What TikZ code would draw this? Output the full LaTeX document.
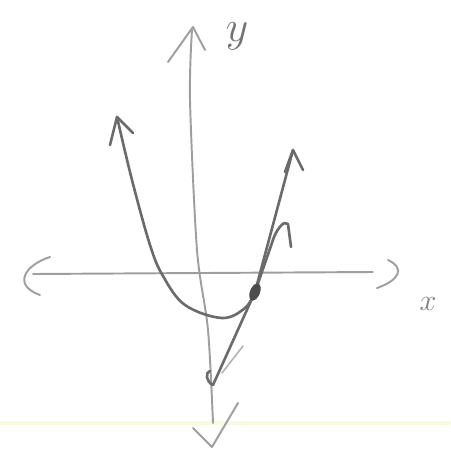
\documentclass[tikz,border=0pt]{standalone}
\begin{document}
\begin{tikzpicture}[x=0.02cm,y=-0.02cm,line cap=round,line join=round,
  axis/.style={draw=black!38,line width=1.1pt},
  pen/.style={draw=black!58,line width=1.5pt},
  faint/.style={draw=black!30,line width=0.9pt}]
\useasboundingbox (0,0) rectangle (450,453);
% scan artifact band
\draw[draw={rgb,255:red,250;green,250;blue,225},line width=2pt] (0,423) -- (450,423);
% y axis
\draw[axis] plot[smooth] coordinates {(192,30) (190,100) (197,250) (208,330) (213,423)};
\draw[axis] (168,62) -- (193,27) -- (205,50);
\draw[axis] (193,428) -- (212,447) -- (238,403);
\node (ylab) at (237,36) {\fontsize{36}{38}\selectfont\color{black!55}$y$};
% x axis
\draw[axis] (33,274) -- (373,272);
\draw[axis] (50,257) .. controls (25,265) and (12,285) .. (40,295);
\draw[axis] (388,260) .. controls (405,268) and (400,280) .. (377,288);
\node (xlab) at (428,304) {\fontsize{18}{20}\selectfont\color{black!50}$x$};
% parabola
\draw[pen] plot[smooth,tension=0.6] coordinates {(117,117) (132,180) (150,245) (163,276) (185,305) (222,318) (245,308) (255,292)};
\draw[pen] (110,145) -- (117,117) -- (133,133);
% right arm / tangent line
\draw[pen] (255,292) -- (293,150);
\draw[pen] (285,172) -- (293,150) -- (303,170);
\draw[pen] (255,292) -- (274,237) .. controls (278,228) and (284,220) .. (288,224) -- (291,247);
\draw[pen] (255,292) -- (213,385);
\draw[pen] (213,385) .. controls (206,382) and (205,372) .. (210,371);
\draw[faint] (222,373) -- (243,346);
% point
\fill[black!70,rotate around={-22:(255,292)}] (255,292) ellipse (5 and 9);
\end{tikzpicture}
\end{document}
